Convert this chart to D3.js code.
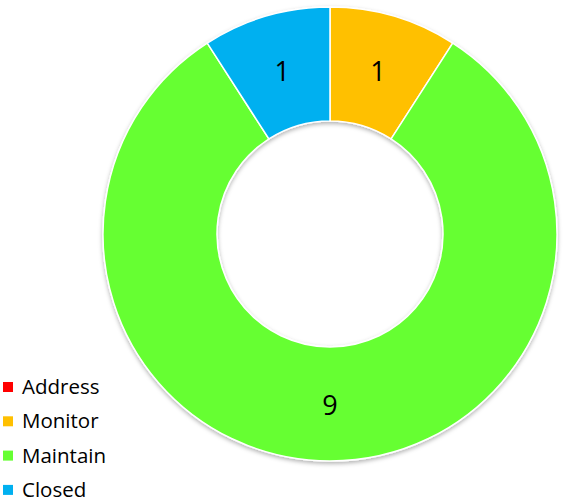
<!DOCTYPE html>
<html><head><meta charset="utf-8">
<script src="https://cdn.jsdelivr.net/npm/d3@7"></script>
<style>html,body{margin:0;padding:0;background:#fff;}svg{display:block;}</style>
</head><body>
<svg id="chart" width="565" height="502"></svg>
<script>
const categories = ["Address", "Monitor", "Maintain", "Closed"];
const values = [0, 1, 9, 1];
const colors = ["#FF0000", "#FFC000", "#66FF33", "#00B0F0"];

const svg = d3.select("#chart");
const cx = 330, cy = 234, outerR = 227, innerR = 113;

const defs = svg.append("defs");
const f = defs.append("filter").attr("id", "sh").attr("x", "-10%").attr("y", "-10%").attr("width", "120%").attr("height", "120%");
f.append("feDropShadow").attr("dx", 0).attr("dy", 2).attr("stdDeviation", 2).attr("flood-color", "#000").attr("flood-opacity", 0.3);

const pie = d3.pie().value(d => d.v).sort(null);
const arc = d3.arc().innerRadius(innerR).outerRadius(outerR);
const labelArc = d3.arc().innerRadius((innerR + outerR) / 2).outerRadius((innerR + outerR) / 2);
const data = categories.map((c, i) => ({c, v: values[i], col: colors[i]}));
const arcs = pie(data);

const g = svg.append("g").attr("transform", `translate(${cx},${cy})`);
g.append("g").attr("filter", "url(#sh)")
  .selectAll("path").data(arcs.filter(d => d.data.v > 0)).join("path")
  .attr("d", arc).attr("fill", d => d.data.col)
  .attr("stroke", "#fff").attr("stroke-width", 1.5);

g.selectAll("text").data(arcs.filter(d => d.data.v > 0)).join("text")
  .attr("transform", d => `translate(${labelArc.centroid(d)})`)
  .attr("text-anchor", "middle").attr("dominant-baseline", "central")
  .attr("font-family", "Open Sans, sans-serif").attr("font-size", 27)
  .attr("fill", "#000").text(d => d.data.v);

const leg = svg.append("g").attr("transform", "translate(3,387)");
const items = leg.selectAll("g").data(data).join("g")
  .attr("transform", (d, i) => `translate(0,${i * 34.3})`);
items.append("rect").attr("x", 0).attr("y", -5).attr("width", 10).attr("height", 10).attr("fill", d => d.col);
items.append("text").attr("x", 19).attr("y", 0).attr("dy", "0.35em")
  .attr("font-family", "Open Sans, sans-serif").attr("font-size", 20.5).attr("fill", "#000")
  .text(d => d.c);
</script>
</body></html>
